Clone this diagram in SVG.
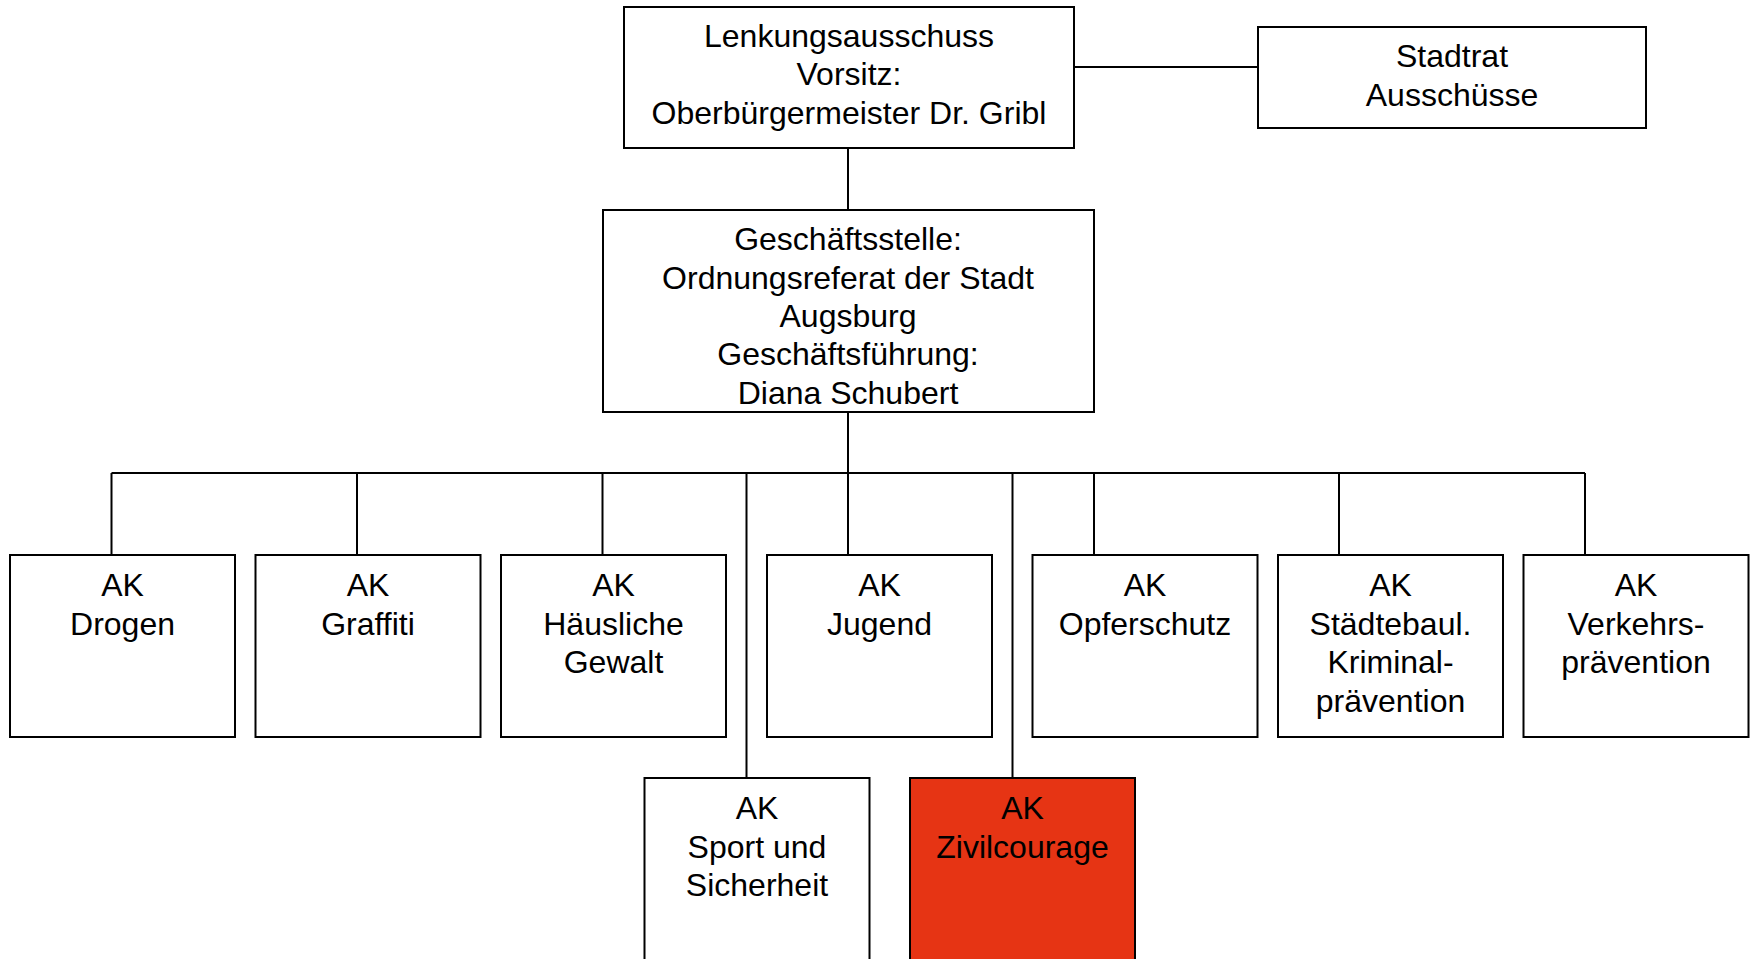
<svg xmlns="http://www.w3.org/2000/svg" width="1750" height="959" viewBox="0 0 1750 959">
<style>
.box{fill:#fff;stroke:#000;stroke-width:2}
.red{fill:#E63414;stroke:#000;stroke-width:2}
.t{font-family:"Liberation Sans",Arial,sans-serif;font-size:32px;fill:#000;text-anchor:middle}
.c{fill:none;stroke:#000;stroke-width:2}
</style>
<rect width="1750" height="959" fill="#fff"/>
<g id="connectors">
<path class="c" d="M1074 67H1258"/>
<path class="c" d="M848 148V210"/>
<path class="c" d="M848 412V473"/>
<path class="c" d="M111.5 473H1585"/>
<path class="c" d="M111.5 473V555M357 473V555M602.5 473V555M848 473V555M1094 473V555M1339 473V555M1585 473V555"/>
<path class="c" d="M746.5 473V778M1012.5 473V778"/>
</g>
<g id="lenkungsausschuss">
<rect class="box" x="624" y="7" width="450" height="141"/>
<text class="t" x="849" y="46.5">Lenkungsausschuss</text>
<text class="t" x="849" y="85">Vorsitz:</text>
<text class="t" x="849" y="123.5">Oberbürgermeister Dr. Gribl</text>
</g>
<g id="stadtrat">
<rect class="box" x="1258" y="27" width="388" height="101"/>
<text class="t" x="1452" y="67">Stadtrat</text>
<text class="t" x="1452" y="106">Ausschüsse</text>
</g>
<g id="geschaeftsstelle">
<rect class="box" x="603" y="210" width="491" height="202"/>
<text class="t" x="848" y="250">Geschäftsstelle:</text>
<text class="t" x="848" y="288.5">Ordnungsreferat der Stadt</text>
<text class="t" x="848" y="327">Augsburg</text>
<text class="t" x="848" y="365">Geschäftsführung:</text>
<text class="t" x="848" y="403.5">Diana Schubert</text>
</g>
<g id="ak-drogen">
<rect class="box" x="10" y="555" width="225" height="182"/>
<text class="t" x="122.5" y="596">AK</text>
<text class="t" x="122.5" y="634.5">Drogen</text>
</g>
<g id="ak-graffiti">
<rect class="box" x="255.5" y="555" width="225" height="182"/>
<text class="t" x="368" y="596">AK</text>
<text class="t" x="368" y="634.5">Graffiti</text>
</g>
<g id="ak-haeusliche-gewalt">
<rect class="box" x="501" y="555" width="225" height="182"/>
<text class="t" x="613.5" y="596">AK</text>
<text class="t" x="613.5" y="634.5">Häusliche</text>
<text class="t" x="613.5" y="673">Gewalt</text>
</g>
<g id="ak-jugend">
<rect class="box" x="767" y="555" width="225" height="182"/>
<text class="t" x="879.5" y="596">AK</text>
<text class="t" x="879.5" y="634.5">Jugend</text>
</g>
<g id="ak-opferschutz">
<rect class="box" x="1032.5" y="555" width="225" height="182"/>
<text class="t" x="1145" y="596">AK</text>
<text class="t" x="1145" y="634.5">Opferschutz</text>
</g>
<g id="ak-staedtebaul">
<rect class="box" x="1278" y="555" width="225" height="182"/>
<text class="t" x="1390.5" y="596">AK</text>
<text class="t" x="1390.5" y="634.5">Städtebaul.</text>
<text class="t" x="1390.5" y="673">Kriminal-</text>
<text class="t" x="1390.5" y="711.5">prävention</text>
</g>
<g id="ak-verkehr">
<rect class="box" x="1523.5" y="555" width="225" height="182"/>
<text class="t" x="1636" y="596">AK</text>
<text class="t" x="1636" y="634.5">Verkehrs-</text>
<text class="t" x="1636" y="673">prävention</text>
</g>
<g id="ak-sport">
<rect class="box" x="644.5" y="778" width="225" height="190"/>
<text class="t" x="757" y="819">AK</text>
<text class="t" x="757" y="857.5">Sport und</text>
<text class="t" x="757" y="896">Sicherheit</text>
</g>
<g id="ak-zivilcourage">
<rect class="red" x="910" y="778" width="225" height="190"/>
<text class="t" x="1022.5" y="819">AK</text>
<text class="t" x="1022.5" y="857.5">Zivilcourage</text>
</g>
</svg>
